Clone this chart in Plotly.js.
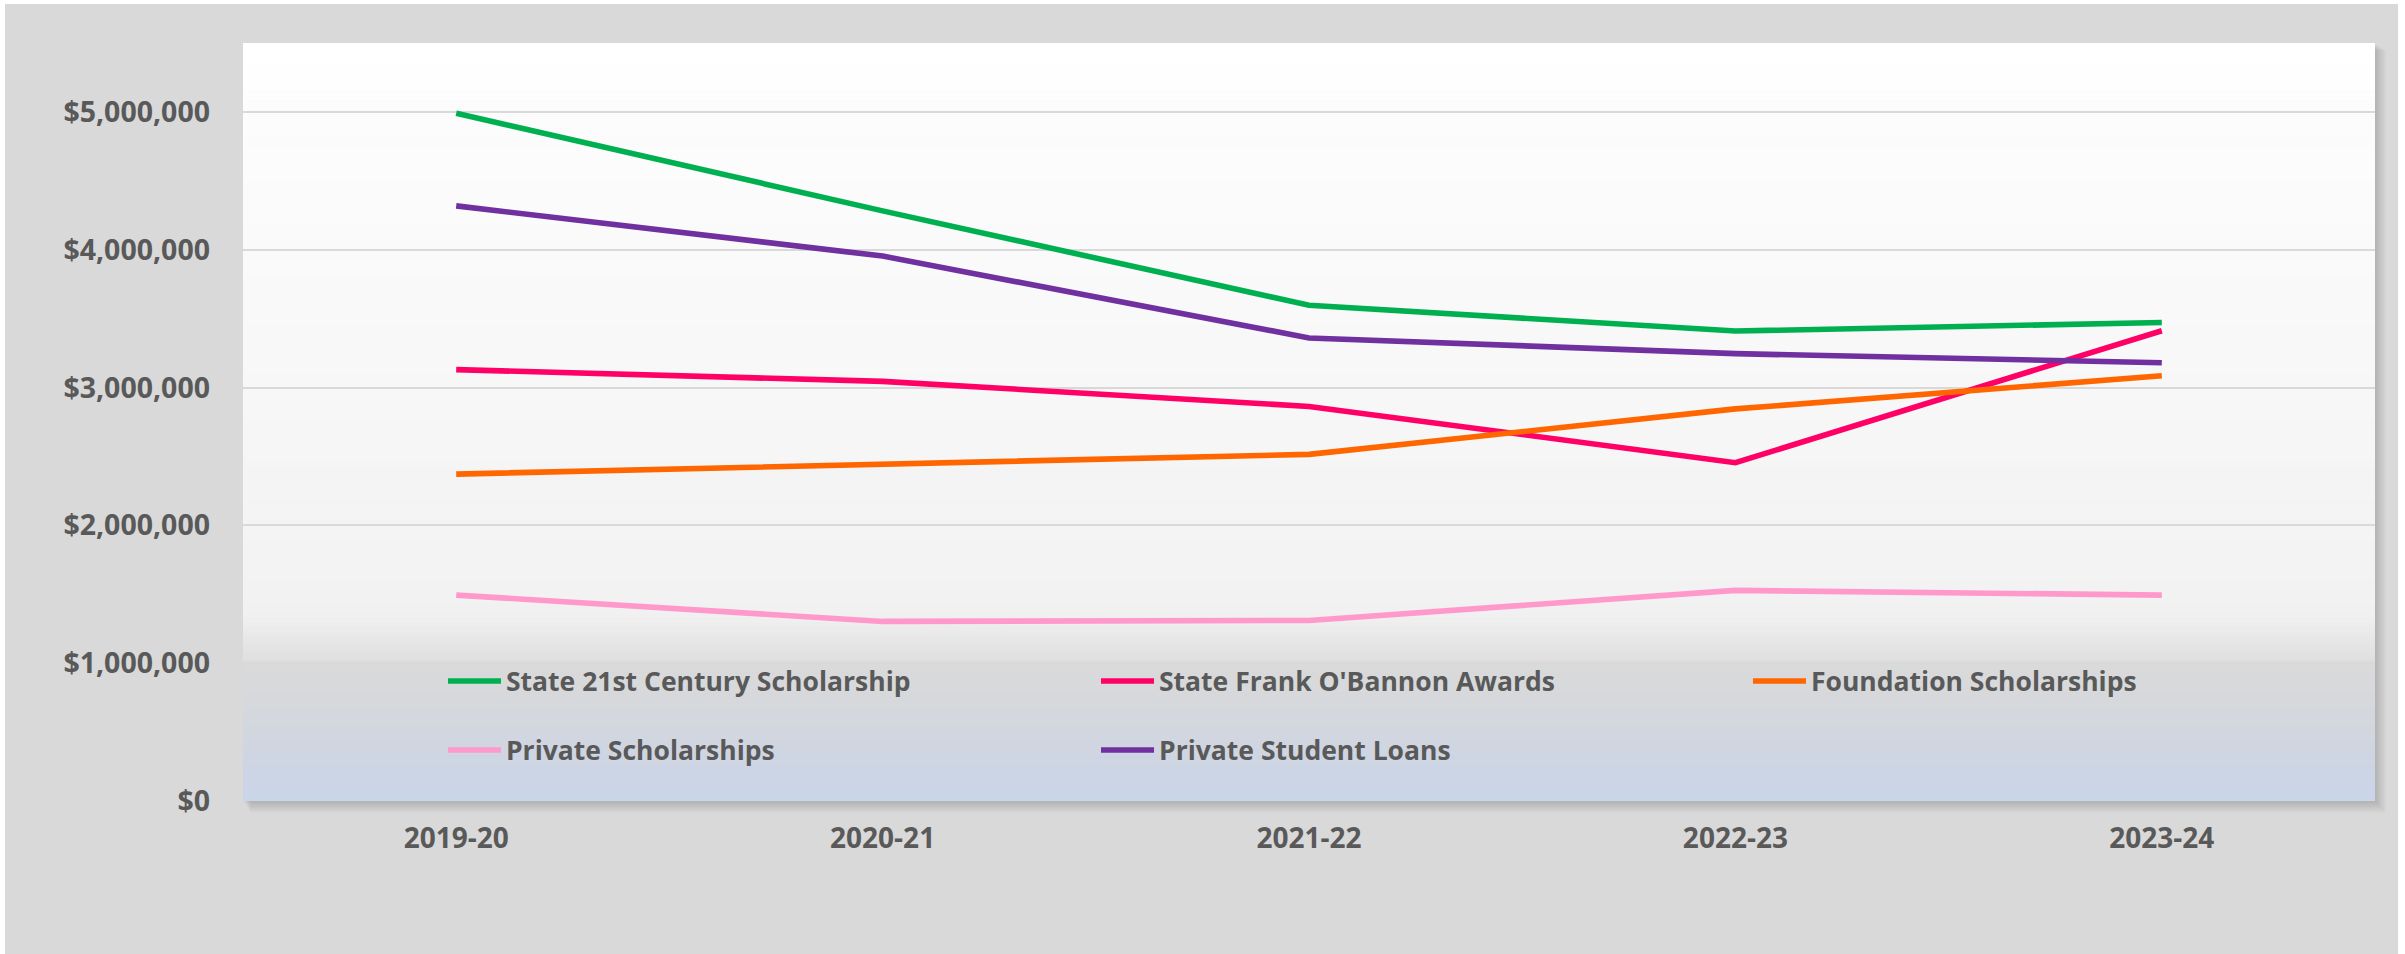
<!DOCTYPE html>
<html>
<head>
<meta charset="utf-8">
<script src="https://cdn.plot.ly/plotly-3.0.1.min.js"></script>
<style>
  html, body { margin: 0; padding: 0; background: #ffffff; }
  #chart { position: absolute; left: 5px; top: 4px; width: 2393px; height: 950px; }
</style>
</head>
<body>
<div id="chart"></div>
<script>
// ---- data ----
const years = ["2019-20", "2020-21", "2021-22", "2022-23", "2023-24"];
const state21stCentury = [4990000, 4282000, 3597000, 3410000, 3472000];
const stateOBannon     = [3130000, 3045000, 2863000, 2455000, 3412000];
const foundation       = [2372000, 2443000, 2515000, 2845000, 3085000];
const privateScholar   = [1494000, 1303000, 1310000, 1528000, 1494000];
const privateLoans     = [4318000, 3954000, 3360000, 3246000, 3180000];
const seriesNames = ["State 21st Century Scholarship", "State Frank O'Bannon Awards",
                     "Foundation Scholarships", "Private Scholarships", "Private Student Loans"];

// ---- styles ----
const txt = "#595959";
const fontFam = "'Open Sans', 'Noto Sans', sans-serif";
const colors = ["#00b050", "#ff0066", "#ff6600", "#ff99cc", "#7030a0"];
const seriesValues = [state21stCentury, stateOBannon, foundation, privateScholar, privateLoans];
const legendIds = ["legend", "legend2", "legend3", "legend4", "legend5"];
// legend placement (paper fractions of plot area): 3 columns x 2 rows
const legendPos = [[0.0938, 0.158], [0.4001, 0.158], [0.7059, 0.158],
                   [0.0938, 0.067], [0.4001, 0.067]];

const traces = seriesValues.map((vals, i) => ({
  type: "scatter",
  mode: "lines",
  x: years,
  y: vals,
  name: seriesNames[i],
  legend: legendIds[i],
  line: { color: colors[i], width: 5.6 },
  hoverinfo: "x+y+name"
}));

// background gradient of plot area (Excel-like), built from colour stops
const stops = [
  [0.0, [0xc9, 0xd5, 0xe9]],
  [0.067, [0xcf, 0xd5, 0xe1]],
  [0.133, [0xd6, 0xd8, 0xdc]],
  [0.1834, [0xda, 0xda, 0xda]],
  [0.1847, [0xdf, 0xdf, 0xdf]],
  [0.203, [0xe4, 0xe4, 0xe4]],
  [0.243, [0xf0, 0xf0, 0xf0]],
  [0.265, [0xf2, 0xf2, 0xf2]],
  [0.529, [0xf7, 0xf7, 0xf7]],
  [0.793, [0xfb, 0xfb, 0xfb]],
  [1.0, [0xff, 0xff, 0xff]]
];
function colorAt(f) {
  for (let k = 0; k < stops.length - 1; k++) {
    const a = stops[k], b = stops[k + 1];
    if (f >= a[0] && f <= b[0]) {
      const t = (f - a[0]) / (b[0] - a[0] || 1);
      const c = a[1].map((v, j) => Math.round(v + (b[1][j] - v) * t));
      return "rgb(" + c.join(",") + ")";
    }
  }
  return "#ffffff";
}
const shapes = [];
// soft drop shadow (outside plot area)
const pw = 2132, ph = 758;
for (let k = 1; k <= 6; k++) {
  shapes.push({
    type: "rect", xref: "paper", yref: "paper", layer: "below",
    x0: (k * 1.2) / pw, x1: 1 + (k * 1.8) / pw,
    y0: -(k * 1.9) / ph, y1: 1 - (k * 1.2) / ph,
    fillcolor: "rgba(0,0,0,0.028)", line: { width: 0 }
  });
}
const N = 380;
for (let s = 0; s < N; s++) {
  const y0 = s / N, y1 = (s + 1) / N;
  shapes.push({
    type: "rect", xref: "paper", yref: "paper", layer: "below",
    x0: 0, x1: 1, y0: y0, y1: Math.min(1, y1 + 0.0008),
    fillcolor: colorAt((y0 + y1) / 2), line: { width: 0 }
  });
}

const layout = {
  width: 2393,
  height: 950,
  margin: { l: 238, r: 23, t: 39, b: 153, pad: 0 },
  paper_bgcolor: "#d9d9d9",
  plot_bgcolor: "#ffffff",
  showlegend: true,
  font: { family: fontFam, color: txt },
  xaxis: {
    type: "category",
    range: [-0.5, 4.5],
    showgrid: false,
    zeroline: false,
    showline: false,
    ticks: "",
    tickfont: { family: fontFam, size: 28, color: txt, weight: "bold" },
    ticklabelstandoff: 18,
    fixedrange: true
  },
  yaxis: {
    range: [0, 5500000],
    dtick: 1000000,
    tick0: 0,
    tickprefix: "$",
    tickformat: ",d",
    showgrid: true,
    gridcolor: "#d9d9d9",
    gridwidth: 2,
    zeroline: false,
    showline: false,
    ticks: "",
    tickfont: { family: fontFam, size: 28.5, color: txt, weight: "bold" },
    ticklabelstandoff: 32,
    fixedrange: true
  },
  shapes: shapes
};

legendIds.forEach((id, i) => {
  layout[id] = {
    orientation: "v",
    xref: "paper", yref: "paper",
    x: legendPos[i][0], y: legendPos[i][1],
    xanchor: "left", yanchor: "middle",
    bgcolor: "rgba(0,0,0,0)",
    borderwidth: 0,
    font: { family: fontFam, size: 26.5, color: txt, weight: "bold" },
    itemwidth: 53
  };
});

Plotly.newPlot("chart", traces, layout, { displayModeBar: false });
</script>
</body>
</html>
